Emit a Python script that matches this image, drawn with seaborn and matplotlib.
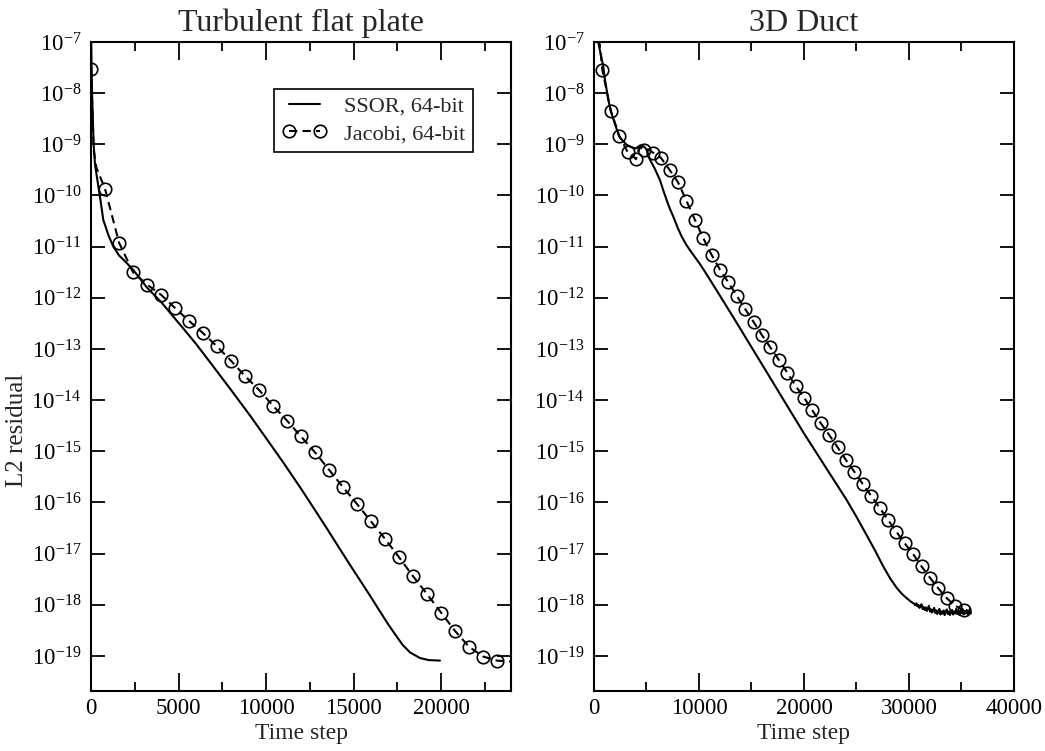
import numpy as np
import pandas as pd
import matplotlib
matplotlib.use("Agg")
import matplotlib.pyplot as plt
import matplotlib.ticker as mticker
import seaborn as sns

# ---- data (log10 of the L2 residual) ----
# Turbulent flat plate
ssor_flat_step = [0, 60, 150, 229, 514, 703, 1000, 1274, 1600, 2040, 2400, 3200, 4000,
                  5274, 6000, 7183, 8000, 9086, 10000, 10990, 12000, 12705, 13500,
                  14800, 16000, 16457, 17000, 17467, 17800, 18229, 18800, 19300, 19943]
ssor_flat_log = [-6.8, -8.0, -9.0, -9.4, -10.03, -10.48, -10.78, -11.0, -11.17, -11.32,
                 -11.45, -11.8, -12.08, -12.6, -12.9, -13.43, -13.8, -14.3, -14.74,
                 -15.22, -15.73, -16.1, -16.52, -17.22, -17.85, -18.1, -18.39, -18.62,
                 -18.78, -18.93, -19.04, -19.08, -19.09]

jac_flat_step = [0, 150, 300, 800, 1600, 2400, 3200, 4000, 4800, 5600, 6400, 7200, 8000,
                 8800, 9600, 10400, 11200, 12000, 12800, 13600, 14400, 15200, 16000,
                 16800, 17600, 18400, 19200, 20000, 20800, 21600, 22400, 23200, 24000]
jac_flat_log = [-7.53, -9.1, -9.45, -9.87, -10.92, -11.5, -11.74, -11.94, -12.2, -12.45,
                -12.69, -12.95, -13.23, -13.53, -13.8, -14.11, -14.4, -14.71, -15.02,
                -15.36, -15.7, -16.03, -16.37, -16.71, -17.07, -17.44, -17.79, -18.15,
                -18.51, -18.82, -19.01, -19.09, -19.11]

# 3D Duct
ssor_duct_step = [400, 889, 1048, 1365, 1600, 2400, 3111, 3600, 4000, 4400, 4800, 5000,
                  5333, 5800, 6286, 6600, 6921, 7250, 7552, 7950, 8349, 8750, 9143, 9600,
                  10095, 10600, 11000, 12000, 13270, 16000, 20000, 24063, 25000, 26000,
                  26800, 27552, 28200, 28800, 29300, 29778, 30200, 30500,
                  30600, 30700, 30800, 30900, 31000, 31100, 31200, 31300, 31400,
                  31500, 31600, 31700, 31800, 31900, 32000, 32100, 32200, 32300,
                  32400, 32500, 32600, 32700, 32800, 32900, 33000, 33100, 33200,
                  33300, 33400, 33500, 33600, 33700, 33800, 33900, 34000, 34100,
                  34200, 34300, 34400, 34500, 34600, 34700, 34800, 34900, 35000,
                  35100, 35200, 35300, 35400, 35500, 35600, 35700, 35800, 35900]
ssor_duct_log = [-7.0, -7.48, -7.74, -8.13, -8.35, -8.85, -9.01, -9.06, -9.08, -9.02,
                 -9.05, -9.1, -9.3, -9.48, -9.7, -9.9, -10.09, -10.27, -10.41, -10.62,
                 -10.8, -10.95, -11.07, -11.2, -11.34, -11.5, -11.63, -11.96, -12.38,
                 -13.3, -14.65, -15.95, -16.28, -16.65, -16.95, -17.25, -17.48, -17.66,
                 -17.78, -17.87, -17.94, -17.98,
                 -18.01, -17.97, -18.03, -18.0, -18.06, -18.02, -17.99, -18.08, -18.04,
                 -18.1, -18.05, -18.12, -18.07, -18.02, -18.13, -18.09, -18.15, -18.1,
                 -18.06, -18.16, -18.11, -18.18, -18.12, -18.08, -18.19, -18.13, -18.17,
                 -18.11, -18.2, -18.14, -18.09, -18.18, -18.13, -18.2, -18.15, -18.1,
                 -18.19, -18.13, -18.17, -18.08, -18.18, -18.14, -18.2, -18.11, -18.16,
                 -18.09, -18.19, -18.12, -18.17, -18.1, -18.18, -18.13, -18.08, -18.17]

jac_duct_step = [500, 800, 1600, 2400, 3200, 3600, 4000, 4400, 4800, 5200, 5600, 6000,
                 6400, 7200, 8000, 8800, 9600, 10400, 11200, 12000, 12800, 13600, 14400,
                 15200, 16000, 16800, 17600, 18400, 19200, 20000, 20800, 21600, 22400,
                 23200, 24000, 24800, 25600, 26400, 27200, 28000, 28800, 29600, 30400,
                 31200, 32000, 32800, 33600, 34400, 35200, 35500, 35900]
jac_duct_log = [-6.95, -7.55, -8.34, -8.83, -9.15, -9.2, -9.29, -9.05, -9.11, -9.1,
                -9.16, -9.2, -9.27, -9.5, -9.74, -10.1, -10.47, -10.83, -11.16, -11.45,
                -11.7, -11.96, -12.22, -12.47, -12.73, -12.97, -13.21, -13.46, -13.72,
                -13.95, -14.2, -14.45, -14.68, -14.92, -15.17, -15.4, -15.64, -15.87,
                -16.1, -16.34, -16.57, -16.8, -17.01, -17.25, -17.47, -17.68, -17.87,
                -18.02, -18.1, -18.12, -18.15]

# y tick decades shown on both panels
y_decades = [-7, -8, -9, -10, -11, -12, -13, -14, -15, -16, -17, -18, -19]

MARK_EVERY = 800  # symbol drawn every 800 time steps

sns.set_style("ticks")
plt.rcParams["font.family"] = ["Liberation Serif", "DejaVu Serif"]
plt.rcParams["mathtext.fontset"] = "custom"
plt.rcParams["mathtext.rm"] = "Liberation Serif"
plt.rcParams["mathtext.it"] = "Liberation Serif:italic"
plt.rcParams["axes.unicode_minus"] = False


def to_frame(step, logres):
    return pd.DataFrame({"step": step, "res": 10.0 ** np.array(logres)})


def draw_panel(ax, ssor, jac, title, xmax, major, minor, last_mark):
    sns.lineplot(data=ssor, x="step", y="res", ax=ax, color="black", lw=1.5,
                 label="SSOR, 64-bit", estimator=None, sort=False)
    marks = [i for i, s in enumerate(jac["step"])
             if s % MARK_EVERY == 0 and s <= last_mark]
    sns.lineplot(data=jac, x="step", y="res", ax=ax, color="black", lw=1.5,
                 linestyle=(0, (4, 2.5)), marker="o", markersize=9,
                 markerfacecolor="none", markeredgecolor="black", markeredgewidth=1.2,
                 markevery=marks, label="Jacobi, 64-bit", estimator=None, sort=False)
    ax.set_yscale("log")
    ax.set_ylim(2.07e-20, 1e-7)
    ax.set_xlim(0, xmax)
    ax.set_xticks(np.arange(0, xmax + 1, major))
    ax.xaxis.set_minor_locator(mticker.FixedLocator(np.arange(minor, xmax, minor)))
    ax.set_yticks([10.0 ** d for d in y_decades])
    ax.yaxis.set_major_formatter(mticker.LogFormatterSciNotation())
    ax.yaxis.set_minor_locator(mticker.NullLocator())
    ax.tick_params(axis="both", which="both", direction="in", top=True, right=True,
                   labelsize=16.5, width=1.3, colors="black")
    ax.tick_params(axis="x", which="major", length=13, pad=5)
    ax.tick_params(axis="x", which="minor", length=6.5)
    ax.tick_params(axis="y", which="major", length=10, pad=7)
    for sp in ax.spines.values():
        sp.set_linewidth(1.5)
        sp.set_color("black")
    ax.set_title(title, fontsize=23, pad=8)
    ax.set_xlabel("Time step", fontsize=17, labelpad=3)
    ax.set_ylabel("")


fig = plt.figure(figsize=(10.45, 7.51), dpi=100)
ax1 = fig.add_axes([0.0871, 0.0799, 0.4019, 0.8642])
ax2 = fig.add_axes([0.5684, 0.0799, 0.4019, 0.8642])

draw_panel(ax1, to_frame(ssor_flat_step, ssor_flat_log),
           to_frame(jac_flat_step, jac_flat_log),
           "Turbulent flat plate", 24000, 5000, 2500, 23200)
draw_panel(ax2, to_frame(ssor_duct_step, ssor_duct_log),
           to_frame(jac_duct_step, jac_duct_log),
           "3D Duct", 40000, 10000, 5000, 35200)

ax1.set_ylabel("L2 residual", fontsize=18)
ax1.yaxis.set_label_coords(-0.15, 0.402)
leg = ax1.legend(loc="upper right", bbox_to_anchor=(0.91, 0.928), borderaxespad=0,
                 numpoints=2, fontsize=16, frameon=True, fancybox=False,
                 edgecolor="black", framealpha=1, handlelength=2.0,
                 borderpad=0.35, labelspacing=0.3, handletextpad=0.8)
leg.get_frame().set_linewidth(1.2)
ax2.get_legend().remove()

fig.savefig("out.png", dpi=100)
